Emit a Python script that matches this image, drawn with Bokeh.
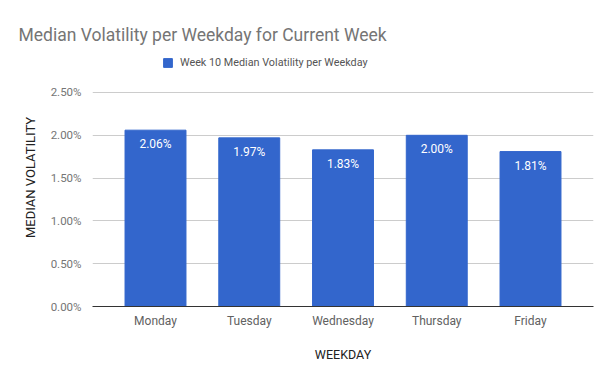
from bokeh.plotting import figure
from bokeh.models import (ColumnDataSource, LabelSet, Legend, LegendItem, FactorRange,
                          PrintfTickFormatter, FixedTicker, Range1d)
from bokeh.core.properties import value
from bokeh.embed import file_html
from bokeh.resources import INLINE

days = ["Monday", "Tuesday", "Wednesday", "Thursday", "Friday"]
values = [2.06, 1.97, 1.83, 2.00, 1.81]
value_labels = ["2.06%", "1.97%", "1.83%", "2.00%", "1.81%"]
y_ticks = [0.0, 0.5, 1.0, 1.5, 2.0, 2.5]
series_name = "Week 10 Median Volatility per Weekday"
chart_title = "Median Volatility per Weekday for Current Week"

FONT = "Roboto"
BLUE = "#3366cc"

src = ColumnDataSource(dict(day=days, val=values, lab=value_labels))

# frame extends above the 2.50% gridline to host the legend (axis has no line, grid only at ticks)
p = figure(x_range=FactorRange(*days, range_padding=0.172, range_padding_units="absolute"),
           y_range=Range1d(0, 3.014),
           width=605, height=372, output_backend="svg", toolbar_location=None,
           min_border_left=92, min_border_right=12, min_border_top=48, min_border_bottom=66)

r = p.vbar(x="day", top="val", width=0.65, source=src, fill_color=BLUE, line_color=BLUE)

labels = LabelSet(x="day", y="val", text="lab", source=src, text_color="white",
                  text_font=value(FONT), text_font_size="12px", text_align="center",
                  text_baseline="top", y_offset=-7)
p.add_layout(labels)

p.title.text = chart_title
p.title.text_font = FONT
p.title.text_font_size = "17.5px"
p.title.text_font_style = "normal"
p.title.text_color = "#757575"
p.title.align = "left"
p.title.offset = -74
p.title.standoff = 7

legend = Legend(items=[LegendItem(label=series_name, renderers=[r])],
                location=(70, 237), orientation="horizontal",
                label_text_font=FONT, label_text_font_size="10.8px", label_text_color="#555555",
                label_height=12, glyph_width=11, glyph_height=11, label_standoff=7,
                border_line_color=None, background_fill_alpha=0, padding=0, margin=0)
p.add_layout(legend)

p.yaxis.ticker = FixedTicker(ticks=y_ticks)
p.yaxis.formatter = PrintfTickFormatter(format="%.2f%%")
p.yaxis.axis_line_color = None
p.yaxis.major_tick_line_color = None
p.yaxis.minor_tick_line_color = None
p.yaxis.major_label_text_font = FONT
p.yaxis.major_label_text_font_size = "11.5px"
p.yaxis.major_label_text_color = "#757575"
p.yaxis.major_label_standoff = 5
p.yaxis.axis_label = "MEDIAN VOLATILITY"
p.yaxis.axis_label_text_font = FONT
p.yaxis.axis_label_text_font_size = "13px"
p.yaxis.axis_label_text_font_style = "normal"
p.yaxis.axis_label_text_color = "#222222"
p.yaxis.axis_label_standoff = 10

p.xaxis.axis_line_color = "#333333"
p.xaxis.major_tick_line_color = None
p.xaxis.minor_tick_line_color = None
p.xaxis.major_label_text_font = FONT
p.xaxis.major_label_text_font_size = "12px"
p.xaxis.major_label_text_color = "#616161"
p.xaxis.major_label_standoff = 1
p.xaxis.axis_label = "WEEKDAY"
p.xaxis.axis_label_text_font = FONT
p.xaxis.axis_label_text_font_size = "12.5px"
p.xaxis.axis_label_text_font_style = "normal"
p.xaxis.axis_label_text_color = "#222222"
p.xaxis.axis_label_standoff = 16

p.xgrid.grid_line_color = None
p.ygrid.grid_line_color = "#cccccc"
p.outline_line_color = None

open("out.html", "w").write(file_html(p, INLINE))
